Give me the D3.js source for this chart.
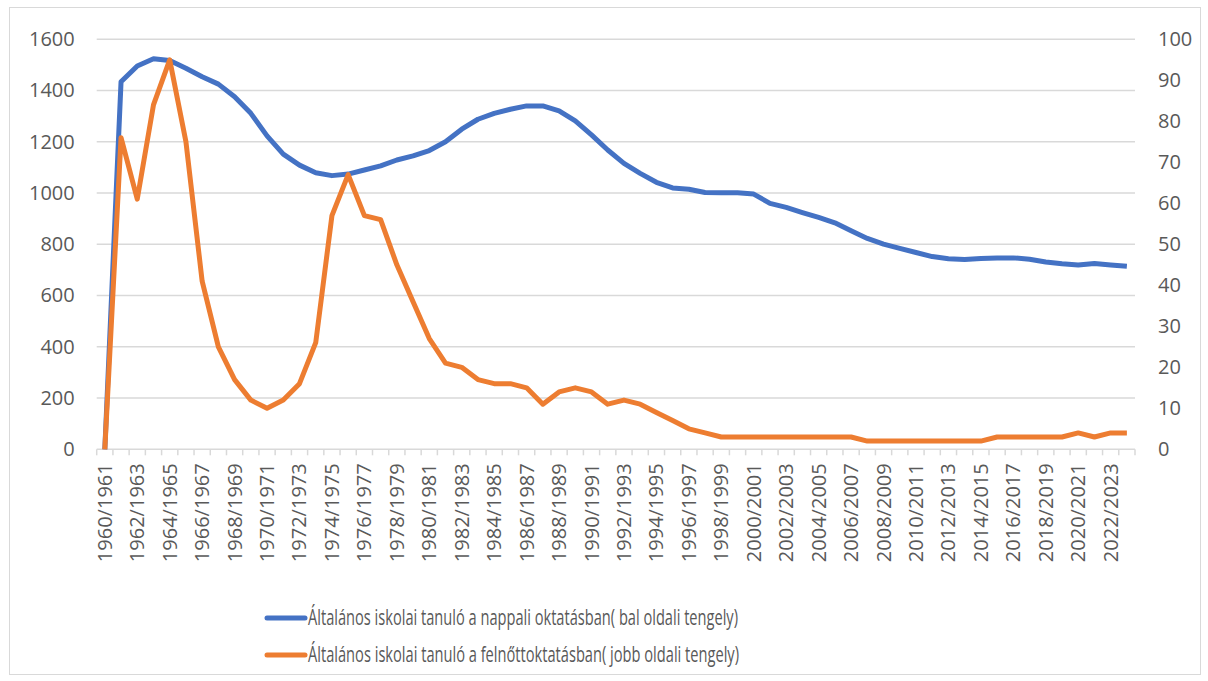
<!DOCTYPE html>
<html>
<head>
<meta charset="utf-8">
<script src="https://d3js.org/d3.v7.min.js"></script>
<style>
  body { margin: 0; background: #fff; }
  text { font-family: "Open Sans", sans-serif; fill: #595959; }
</style>
</head>
<body>
<div id="chart"></div>
<script>
// school years 1960/1961 .. 2023/2024
const years = [
  '1960/1961','1961/1962','1962/1963','1963/1964','1964/1965','1965/1966','1966/1967','1967/1968',
  '1968/1969','1969/1970','1970/1971','1971/1972','1972/1973','1973/1974','1974/1975','1975/1976',
  '1976/1977','1977/1978','1978/1979','1979/1980','1980/1981','1981/1982','1982/1983','1983/1984',
  '1984/1985','1985/1986','1986/1987','1987/1988','1988/1989','1989/1990','1990/1991','1991/1992',
  '1992/1993','1993/1994','1994/1995','1995/1996','1996/1997','1997/1998','1998/1999','1999/2000',
  '2000/2001','2001/2002','2002/2003','2003/2004','2004/2005','2005/2006','2006/2007','2007/2008',
  '2008/2009','2009/2010','2010/2011','2011/2012','2012/2013','2013/2014','2014/2015','2015/2016',
  '2016/2017','2017/2018','2018/2019','2019/2020','2020/2021','2021/2022','2022/2023','2023/2024'
];

// nappali oktatás (left axis)
const dayValues = [
  0, 1434, 1496, 1524, 1517, 1487, 1454, 1425, 1376, 1311, 1223, 1152, 1109, 1079, 1068, 1074,
  1090, 1106, 1129, 1145, 1166, 1200, 1249, 1288, 1311, 1327, 1340, 1340, 1321, 1282, 1227, 1168,
  1116, 1077, 1042, 1020, 1015, 1002, 1001, 1001, 996, 960, 944, 924, 905, 884, 853, 823,
  801, 784, 768, 752, 744, 741, 745, 747, 747, 742, 731, 724, 719, 725, 719, 714
];

// felnőttoktatás (right axis)
const adultValues = [
  0, 76, 61, 84, 95, 75, 41, 25, 17, 12, 10, 12, 16, 26, 57, 67,
  57, 56, 45, 36, 27, 21, 20, 17, 16, 16, 15, 11, 14, 15, 14, 11,
  12, 11, 9, 7, 5, 4, 3, 3, 3, 3, 3, 3, 3, 3, 3, 2,
  2, 2, 2, 2, 2, 2, 2, 3, 3, 3, 3, 3, 4, 3, 4, 4
];

const leftTicks = [0, 200, 400, 600, 800, 1000, 1200, 1400, 1600];
const rightTicks = [0, 10, 20, 30, 40, 50, 60, 70, 80, 90, 100];

const seriesNames = [
  'Általános iskolai tanuló a nappali oktatásban( bal oldali tengely)',
  'Általános iskolai tanuló a felnőttoktatásban( jobb oldali tengely)'
];
const colors = ['#4472C4', '#ED7D31'];

const width = 1208, height = 681;
const plot = { left: 96.7, right: 1135, top: 39.3, bottom: 449.3 };

const svg = d3.select('#chart')
  .append('svg')
  .attr('width', width)
  .attr('height', height);

// chart border
svg.append('rect')
  .attr('x', 9.5).attr('y', 7.5)
  .attr('width', 1191).attr('height', 667)
  .attr('fill', 'none')
  .attr('stroke', '#d9d9d9');

// scales
const x = d3.scaleBand()
  .domain(years)
  .range([plot.left, plot.right]);

const yLeft = d3.scaleLinear()
  .domain([0, 1600])
  .range([plot.bottom, plot.top]);

const yRight = d3.scaleLinear()
  .domain([0, 100])
  .range([plot.bottom, plot.top]);

const cx = d => x(d) + x.bandwidth() / 2;

// gridlines
svg.append('g')
  .selectAll('line')
  .data(leftTicks.slice(1))
  .enter()
  .append('line')
  .attr('x1', plot.left)
  .attr('x2', plot.right)
  .attr('y1', d => yLeft(d))
  .attr('y2', d => yLeft(d))
  .attr('stroke', '#d9d9d9')
  .attr('stroke-width', 1.5);

// left axis
const leftAxis = svg.append('g')
  .attr('transform', `translate(${plot.left - 22},0)`)
  .call(d3.axisLeft(yLeft).tickValues(leftTicks).tickFormat(d3.format('d')).tickSize(0).tickPadding(0));
leftAxis.select('.domain').remove();
leftAxis.selectAll('text')
  .style('font-size', '20px')
  .attr('fill', '#595959');

// right axis
const rightAxis = svg.append('g')
  .attr('transform', `translate(${plot.right + 23},0)`)
  .call(d3.axisRight(yRight).tickValues(rightTicks).tickFormat(d3.format('d')).tickSize(0).tickPadding(0));
rightAxis.select('.domain').remove();
rightAxis.selectAll('text')
  .style('font-size', '20px')
  .attr('fill', '#595959');

// bottom axis line + ticks between categories
svg.append('line')
  .attr('x1', plot.left).attr('x2', plot.right)
  .attr('y1', plot.bottom).attr('y2', plot.bottom)
  .attr('stroke', '#d9d9d9')
  .attr('stroke-width', 1.5);

const tickEdges = years.map(d => x(d)).concat([plot.right]);
svg.append('g')
  .selectAll('line')
  .data(tickEdges)
  .enter()
  .append('line')
  .attr('x1', d => d).attr('x2', d => d)
  .attr('y1', plot.bottom).attr('y2', plot.bottom + 6)
  .attr('stroke', '#d9d9d9')
  .attr('stroke-width', 1.5);

// category labels, every second year
svg.append('g')
  .selectAll('text')
  .data(years.filter((d, i) => i % 2 === 0))
  .enter()
  .append('text')
  .attr('transform', d => `translate(${cx(d)},${plot.bottom + 14}) rotate(-90)`)
  .attr('text-anchor', 'end')
  .attr('dy', '0.35em')
  .style('font-size', '20px')
  .text(d => d);

// lines
const lineLeft = d3.line()
  .x((d, i) => cx(years[i]))
  .y(d => yLeft(d));

const lineRight = d3.line()
  .x((d, i) => cx(years[i]))
  .y(d => yRight(d));

svg.append('path')
  .datum(dayValues)
  .attr('d', lineLeft)
  .attr('fill', 'none')
  .attr('stroke', colors[0])
  .attr('stroke-width', 5)
  .attr('stroke-linejoin', 'round');

svg.append('path')
  .datum(adultValues)
  .attr('d', lineRight)
  .attr('fill', 'none')
  .attr('stroke', colors[1])
  .attr('stroke-width', 5)
  .attr('stroke-linejoin', 'round');

// legend
const legend = svg.append('g')
  .selectAll('g')
  .data(seriesNames)
  .enter()
  .append('g')
  .attr('transform', (d, i) => `translate(267,${618 + i * 37})`);

legend.append('line')
  .attr('x1', 0).attr('x2', 38)
  .attr('stroke', (d, i) => colors[i])
  .attr('stroke-width', 5)
  .attr('stroke-linecap', 'round');

legend.append('text')
  .attr('x', 41)
  .attr('dy', '0.35em')
  .style('font-size', '21px')
  .attr('textLength', (d, i) => i === 0 ? 430 : 431)
  .attr('lengthAdjust', 'spacingAndGlyphs')
  .text(d => d);
</script>
</body>
</html>
